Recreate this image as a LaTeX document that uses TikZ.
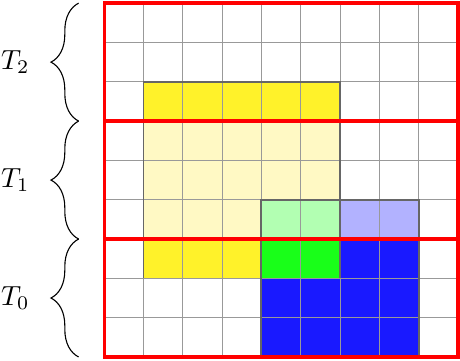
\documentclass[tikz,border=0pt]{standalone}
\usepackage{amsmath,amssymb}
\usepackage{tikz}
\usepackage{xcolor}
\usetikzlibrary{decorations.pathreplacing}

\definecolor{yelhi}{RGB}{255,242,42}
\definecolor{yello}{RGB}{255,249,196}

\tikzset{
  tile/.style={draw=red,line width=1.2pt},
  outline/.style={draw=black!60,line width=0.7pt},
  tbrace/.style={decorate,decoration={brace,amplitude=10pt}},
}

\begin{document}
\begin{tikzpicture}[scale=0.5]
    \useasboundingbox (-2.65,-0.08) rectangle (9.05,9.08);

    % Bright cells
    \fill[yelhi] (1,6) rectangle (6,7);
    \fill[yelhi] (1,2) rectangle (4,3);
    \fill[green!90] (4,2) rectangle (6,3);
    \fill[blue!90] (6,2) rectangle (8,3);
    \fill[blue!90] (4,0) rectangle (8,2);

    % Faded cells
    \fill[yello] (1,3) rectangle (6,6);
    \fill[green!30] (4,3) rectangle (6,4);
    \fill[blue!30] (6,3) rectangle (8,4);

    % Grid
    \draw[black!40,line width=0.4pt] (0,0) grid (9,9);

    % Outlines
    \draw[outline] (1,2) -- (1,7) -- (6,7) -- (6,4);
    \draw[outline] (4,0) -- (4,4) -- (8,4) -- (8,0);
    \draw[outline] (6,2) -- (6,4);

    % Tiles
    \draw[tile] (0,0) rectangle (9,3);
    \draw[tile] (0,3) rectangle (9,6);
    \draw[tile] (0,6) rectangle (9,9);

    % Braces
    \draw[tbrace] (-0.65,0) -- (-0.65,3);
    \draw[tbrace] (-0.65,3) -- (-0.65,6);
    \draw[tbrace] (-0.65,6) -- (-0.65,9);
    \node (t0) at (-2.26,1.5) {$T_0$};
    \node (t1) at (-2.26,4.5) {$T_1$};
    \node (t2) at (-2.26,7.5) {$T_2$};
\end{tikzpicture}
\end{document}
